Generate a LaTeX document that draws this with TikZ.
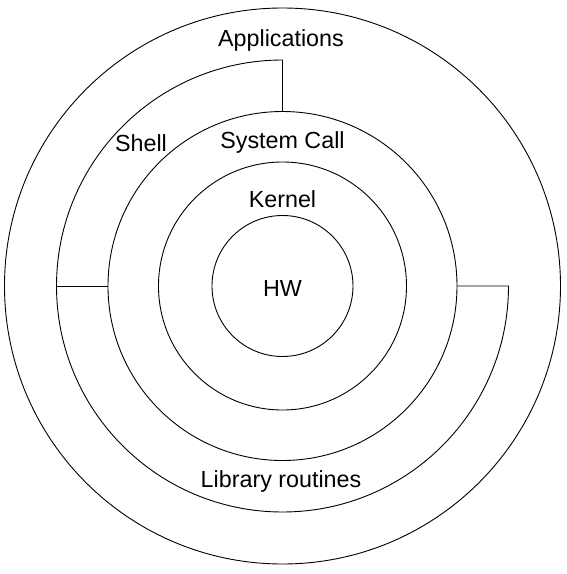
\documentclass[tikz,border=0pt]{standalone}
\usepackage{fontspec}
\setmainfont{Liberation Sans}
\usetikzlibrary{positioning}

\begin{document}
\begin{tikzpicture}[x=1pt,y=1pt,line width=0.9pt,
		layer label/.style={font=\fontsize{23.3}{28}\selectfont,anchor=base,inner sep=0pt}]
		
		\useasboundingbox (-282.5,-288) rectangle (284.5,286);
		\coordinate (o) at (0,0);
		
		% layers
		\draw (o) circle (70.5);
		\draw (o) circle (124);
		\draw (o) circle (174.5);
		\draw (o) circle (278);
		
		\coordinate (sw) at (-226,0);
		\coordinate (st) at (0,226);
		\coordinate (cw) at (-174.5,0);
		\coordinate (ct) at (0,174.5);
		\coordinate (le) at (226,0);
		\coordinate (ce) at (174.5,0);
		
		% shell and library routines
		\draw (sw) arc (180:90:226) -- (ct);
		\draw (sw) -- (cw);
		\draw (sw) arc (180:360:226) -- (ce);
		
		\node[layer label] (hw) at (0,-10) {HW};
		\node[layer label] (kernel) at (0,79) {Kernel};
		\node[layer label] (syscall) at (0,137.7) {System Call};
		\node[layer label] (shell) at (-141.5,134.7) {Shell};
		\node[layer label] (apps) at (-1.5,239.3) {Applications};
		\node[layer label] (lib) at (-1.5,-201.3) {Library routines};
		\end{tikzpicture}
\end{document}
